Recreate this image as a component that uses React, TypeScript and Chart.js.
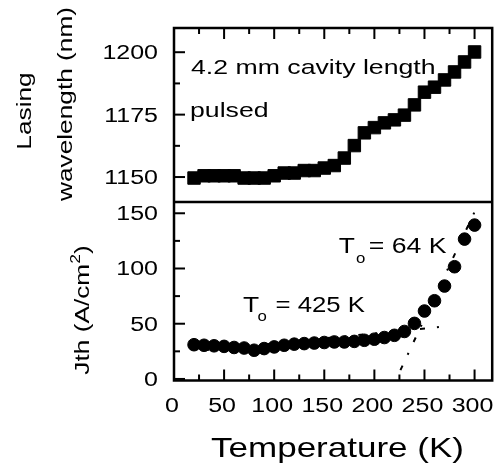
import { useEffect, useRef } from 'react';
import { Chart, registerables } from 'chart.js';

Chart.register(...registerables);

// ---------- data ----------
const temperatureK = [20, 30, 40, 50, 60, 70, 80, 90, 100, 110, 120, 130, 140, 150, 160, 170, 180, 190, 200, 210, 220, 230, 240, 250, 260, 270, 280, 290, 300];
const wavelengthNm = [1149.6, 1150.5, 1150.5, 1150.5, 1150.5, 1149.6, 1149.6, 1149.6, 1150.5, 1151.6, 1151.6, 1152.6, 1152.6, 1153.6, 1154.6, 1157.6, 1162.6, 1167.7, 1169.8, 1171.7, 1172.9, 1174.8, 1178.9, 1184.0, 1186.0, 1188.9, 1192.1, 1196.1, 1200.1];
const thresholdJ = [31, 30.5, 30, 29.5, 28.5, 28, 26, 27.5, 29, 30.5, 31.5, 32, 32.5, 33, 33.5, 33.5, 34, 35, 36, 37.5, 39.5, 43, 50.3, 61.5, 70.8, 84.1, 101.6, 126.6, 139.3];

// T0 fit lines
const fitLowT = [30, 276];
const fitLowJ = [26, 48];
const fitHighT = [226, 303];
const fitHighJ = [8, 157];

// ticks
const xMajorTicks = [0, 50, 100, 150, 200, 250, 300];
const xMinorTicks = [25, 75, 125, 175, 225, 275];
const wlMajorTicks = [1150, 1175, 1200];
const wlMinorTicks = [1162.5, 1187.5];
const jMajorTicks = [0, 50, 100, 150];
const jMinorTicks = [25, 75, 125];

// texts
const xTitle = 'Temperature (K)';
const wlTitleLine1 = 'Lasing';
const wlTitleLine2 = 'wavelength (nm)';
const jTitleMain = 'Jth (A/cm';
const jTitleSup = '2';
const jTitleEnd = ')';
const noteCavity = '4.2 mm cavity length';
const notePulsed = 'pulsed';
const t0Low = '= 425 K';
const t0High = '= 64 K';

const FONT = '"Liberation Sans", Arial, Helvetica, sans-serif';
const SX = 1.25;

function txt(ctx: CanvasRenderingContext2D, s: string, x: number, y: number, size: number, align: CanvasTextAlign, sx = SX) {
  ctx.save();
  ctx.font = `${size}px ${FONT}`;
  ctx.fillStyle = '#000';
  ctx.textAlign = align;
  ctx.textBaseline = 'alphabetic';
  ctx.translate(x, y);
  ctx.scale(sx, 1);
  ctx.fillText(s, 0, 0);
  ctx.restore();
}

type Run = { t: string; size: number; dy: number };
function rotatedRuns(ctx: CanvasRenderingContext2D, runs: Run[], baseX: number, centerY: number, sx = SX) {
  ctx.save();
  ctx.translate(baseX, centerY);
  ctx.rotate(-Math.PI / 2);
  ctx.scale(sx, 1);
  ctx.fillStyle = '#000';
  ctx.textBaseline = 'alphabetic';
  ctx.textAlign = 'left';
  const widths: number[] = [];
  let total = 0;
  for (const r of runs) {
    ctx.font = `${r.size}px ${FONT}`;
    const w = ctx.measureText(r.t).width;
    widths.push(w);
    total += w;
  }
  let x = -total / 2;
  runs.forEach((r, i) => {
    ctx.font = `${r.size}px ${FONT}`;
    ctx.fillText(r.t, x, r.dy);
    x += widths[i];
  });
  ctx.restore();
}

const framePlugin = {
  id: 'frameAndText',
  afterDraw(chart: any) {
    const ctx: CanvasRenderingContext2D = chart.ctx;
    const { left, right, top, bottom } = chart.chartArea;
    const xs = chart.scales.x;
    const y1 = chart.scales.y1;
    const y2 = chart.scales.y2;
    ctx.save();
    ctx.strokeStyle = '#000';
    ctx.lineCap = 'butt';
    // frame
    ctx.lineWidth = 2.5;
    ctx.strokeRect(left, top, right - left, bottom - top);
    const sep = Math.min(y1.bottom, y2.bottom);
    ctx.beginPath();
    ctx.moveTo(left, sep);
    ctx.lineTo(right, sep);
    ctx.stroke();

    // ticks
    ctx.lineWidth = 2;
    const MAJ = 11;
    const MIN = 6;
    const vtick = (v: number, len: number) => {
      const px = xs.getPixelForValue(v);
      ctx.beginPath();
      ctx.moveTo(px, bottom);
      ctx.lineTo(px, bottom - len);
      ctx.moveTo(px, top);
      ctx.lineTo(px, top + len);
      ctx.stroke();
    };
    xMajorTicks.forEach((v) => vtick(v, MAJ));
    xMinorTicks.forEach((v) => vtick(v, MIN));
    const htick = (scale: any, v: number, len: number) => {
      const py = scale.getPixelForValue(v);
      ctx.beginPath();
      ctx.moveTo(left, py);
      ctx.lineTo(left + len, py);
      ctx.stroke();
    };
    wlMajorTicks.forEach((v) => htick(y1, v, MAJ));
    wlMinorTicks.forEach((v) => htick(y1, v, MIN));
    jMajorTicks.forEach((v) => htick(y2, v, MAJ));
    jMinorTicks.forEach((v) => htick(y2, v, MIN));
    ctx.restore();

    // tick labels
    xMajorTicks.forEach((v) => txt(ctx, String(v), xs.getPixelForValue(v) - 2, bottom + 31, 20, 'center'));
    wlMajorTicks.forEach((v) => txt(ctx, String(v), left - 16, y1.getPixelForValue(v) + 7, 20, 'right'));
    jMajorTicks.forEach((v) => txt(ctx, String(v), left - 16, y2.getPixelForValue(v) + 7, 20, 'right'));

    // axis titles
    txt(ctx, xTitle, 337.5, 456.5, 28, 'center');
    rotatedRuns(ctx, [{ t: wlTitleLine1, size: 21, dy: 0 }], 30.5, 111);
    rotatedRuns(ctx, [{ t: wlTitleLine2, size: 21, dy: 0 }], 72, 104);
    rotatedRuns(
      ctx,
      [
        { t: jTitleMain, size: 21, dy: 0 },
        { t: jTitleSup, size: 14, dy: -9 },
        { t: jTitleEnd, size: 21, dy: 0 },
      ],
      89,
      310
    );

    // annotations
    txt(ctx, noteCavity, 191, 74, 21, 'left', 1.27);
    txt(ctx, notePulsed, 190, 116.5, 21, 'left', 1.27);
    // T0 = 425 K
    txt(ctx, 'T', 243, 311.5, 22, 'left', 1.2);
    txt(ctx, 'o', 257.5, 320.5, 14, 'left', 1.2);
    txt(ctx, t0Low, 275.5, 311.5, 22, 'left', 1.17);
    // T0 = 64 K
    txt(ctx, 'T', 338.7, 253.3, 22, 'left', 1.2);
    txt(ctx, 'o', 356, 263, 14, 'left', 1.2);
    txt(ctx, t0High, 368.7, 253.3, 22, 'left', 1.21);
  },
};

export default function App() {
  const ref = useRef<HTMLCanvasElement | null>(null);

  useEffect(() => {
    if (!ref.current) return;
    const toXY = (xs: number[], ys: number[]) => xs.map((x, i) => ({ x, y: ys[i] }));
    const chart = new Chart(ref.current, {
      type: 'scatter',
      data: {
        datasets: [
          {
            label: 'wavelength',
            data: toXY(temperatureK, wavelengthNm),
            yAxisID: 'y1',
            pointStyle: 'rect',
            pointRadius: 8.8,
            backgroundColor: '#000',
            borderColor: '#000',
            borderWidth: 1,
          },
          {
            label: 'fit T0=425K',
            data: toXY(fitLowT, fitLowJ),
            yAxisID: 'y2',
            showLine: true,
            pointRadius: 0,
            borderColor: '#000',
            borderWidth: 2,
            borderDash: [5, 12, 2, 12],
          },
          {
            label: 'fit T0=64K',
            data: toXY(fitHighT, fitHighJ),
            yAxisID: 'y2',
            showLine: true,
            pointRadius: 0,
            borderColor: '#000',
            borderWidth: 2,
            borderDash: [5, 12, 2, 12],
          },
          {
            label: 'Jth',
            data: toXY(temperatureK, thresholdJ),
            yAxisID: 'y2',
            pointStyle: 'circle',
            pointRadius: 6.3,
            backgroundColor: '#000',
            borderColor: '#000',
            borderWidth: 1,
          },
        ],
      },
      options: {
        responsive: false,
        animation: false,
        events: [],
        layout: { padding: { top: 28, right: 3, left: 0, bottom: 0 } },
        plugins: { legend: { display: false }, tooltip: { enabled: false } },
        scales: {
          x: {
            type: 'linear',
            position: 'bottom',
            min: 0,
            max: 317.6,
            grid: { display: false },
            border: { display: false },
            ticks: { display: false },
            afterFit: (s: any) => {
              s.height = 83.5;
            },
          },
          y1: {
            type: 'linear',
            position: 'left',
            stack: 'panels',
            stackWeight: 174,
            weight: 2,
            min: 1140,
            max: 1209.7,
            grid: { display: false },
            border: { display: false },
            ticks: { display: false },
            afterFit: (s: any) => {
              s.width = 174;
            },
          },
          y2: {
            type: 'linear',
            position: 'left',
            stack: 'panels',
            stackWeight: 178.5,
            weight: 1,
            min: -1.4,
            max: 160.2,
            grid: { display: false },
            border: { display: false },
            ticks: { display: false },
            afterFit: (s: any) => {
              s.width = 174;
            },
          },
        },
      } as any,
      plugins: [framePlugin],
    });
    return () => chart.destroy();
  }, []);

  return (
    <div style={{ position: 'absolute', left: 0, top: 0, width: 502, height: 464, background: '#fff' }}>
      <canvas ref={ref} width={502} height={464} style={{ display: 'block' }} />
    </div>
  );
}
